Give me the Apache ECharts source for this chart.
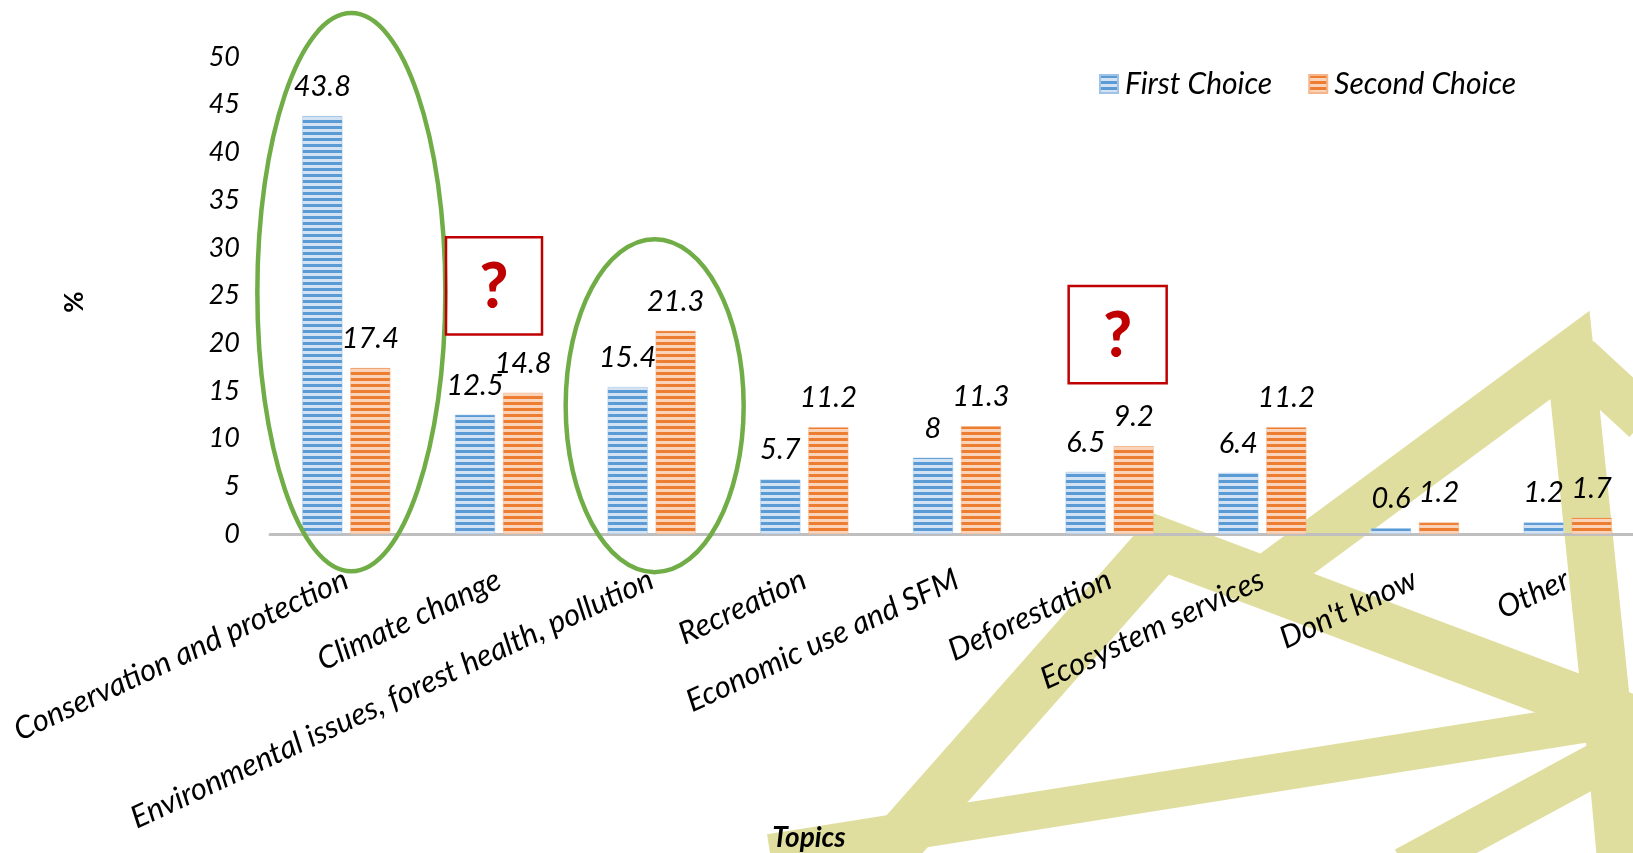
<!DOCTYPE html>
<html>
<head>
<meta charset="utf-8">
<title>Topics</title>
<script src="https://cdn.jsdelivr.net/npm/echarts@6.0.0/dist/echarts.min.js"></script>
<style>
  html, body { margin: 0; padding: 0; background: #ffffff; }
  #chart { width: 1633px; height: 853px; }
</style>
</head>
<body>
<div id="chart"></div>
<script>
// ---- data ----
const categories = [
  'Conservation and protection',
  'Climate change',
  'Environmental issues, forest health, pollution',
  'Recreation',
  'Economic use and SFM',
  'Deforestation',
  'Ecosystem services',
  "Don't know",
  'Other'
];
const firstChoice  = [43.8, 12.5, 15.4, 5.7, 8, 6.5, 6.4, 0.6, 1.2];
const secondChoice = [17.4, 14.8, 21.3, 11.2, 11.3, 9.2, 11.2, 1.2, 1.7];
const seriesNames  = ['First Choice', 'Second Choice'];
const yMin = 0, yMax = 50, yStep = 5;
const xAxisTitle = 'Topics';
const yAxisTitle = '%';

// ---- styling helpers ----
const FONT = 'Lato, "Open Sans", sans-serif';
const BLUE = '#5B9BD5', BLUE_LIGHT = '#d3e3f4';
const ORANGE = '#ED7D31', ORANGE_LIGHT = '#f9d4ba';
const WATERMARK = '#e0de9e';

// horizontal-stripe fill for the bars
function stripes(dark, light) {
  const c = document.createElement('canvas');
  c.width = 8; c.height = 6;
  const g = c.getContext('2d');
  g.fillStyle = light; g.fillRect(0, 0, 8, 6);
  g.fillStyle = dark;  g.fillRect(0, 0, 8, 3);
  return { image: c, repeat: 'repeat' };
}

// thick pale strokes of the background emblem
function band(points, w) {
  return {
    type: 'polyline', z: -10, silent: true,
    shape: { points: points },
    style: { stroke: WATERMARK, lineWidth: w, fill: null, lineJoin: 'miter', lineCap: 'butt', miterLimit: 10 }
  };
}
const emblem = [
  band([[880, 862], [1161, 544], [1645, 726]], 52),
  band([[1258, 585], [1570, 355], [1612, 760], [1622, 870]], 48),
  band([[1578, 358], [1645, 420]], 46),
  band([[770, 853], [1645, 714]], 38),
  band([[1645, 738], [1405, 868]], 42)
];

const chart = echarts.init(document.getElementById('chart'), null, { renderer: 'canvas' });

const labelStyle = {
  show: true, position: 'top', distance: 15,
  fontFamily: FONT, fontStyle: 'italic', fontSize: 29, color: '#000'
};

const option = {
  animation: false,
  backgroundColor: '#ffffff',
  grid: { left: 270, top: 57, width: 1374, height: 477, outerBoundsMode: 'none', containLabel: false },
  legend: {
    data: seriesNames,
    left: 1094, top: 64,
    itemWidth: 18, itemHeight: 18, itemGap: 36,
    icon: 'rect',
    textStyle: { fontFamily: FONT, fontStyle: 'italic', fontSize: 30, color: '#000', padding: [0, 0, 0, 2] }
  },
  xAxis: {
    type: 'category',
    data: categories,
    axisLine: { show: true, lineStyle: { color: '#bfbfbf', width: 3 } },
    axisTick: { show: false },
    axisLabel: {
      interval: 0, rotate: 25, margin: 44,
      fontFamily: FONT, fontStyle: 'italic', fontSize: 31, color: '#000'
    }
  },
  yAxis: {
    type: 'value',
    min: yMin, max: yMax, interval: yStep,
    axisLine: { show: false },
    axisTick: { show: false },
    splitLine: { show: false },
    axisLabel: { margin: 30, fontFamily: FONT, fontStyle: 'italic', fontSize: 27, color: '#000' }
  },
  series: [
    {
      name: seriesNames[0], type: 'bar', data: firstChoice,
      barWidth: 40, barGap: '20%',
      itemStyle: { color: stripes(BLUE, BLUE_LIGHT), borderColor: '#9fc2e6', borderWidth: 0.5 },
      label: labelStyle
    },
    {
      name: seriesNames[1], type: 'bar', data: secondChoice,
      barWidth: 40, barGap: '20%',
      itemStyle: { color: stripes(ORANGE, ORANGE_LIGHT), borderColor: '#f5b58a', borderWidth: 0.5 },
      label: labelStyle
    }
  ],
  graphic: emblem
};

chart.setOption(option);

// annotations placed with the chart's own coordinate system
const px = (i, v) => chart.convertToPixel({ gridIndex: 0 }, [i, v]);
function ellipseAround(i, dx, vTop, vBottom, halfW) {
  const top = px(i, vTop)[1], bottom = px(i, vBottom)[1];
  return {
    type: 'ellipse', z: 100, silent: true,
    shape: { cx: px(i, 0)[0] + dx, cy: (top + bottom) / 2, rx: halfW, ry: (bottom - top) / 2 },
    style: { stroke: '#70AD47', lineWidth: 4.5, fill: null }
  };
}
function questionBox(i, dx, vTop, vBottom, w) {
  const top = px(i, vTop)[1], bottom = px(i, vBottom)[1];
  const cx = px(i, 0)[0] + dx;
  return [
    {
      type: 'rect', z: 100, silent: true,
      shape: { x: cx - w / 2, y: top, width: w, height: bottom - top },
      style: { stroke: '#C00000', lineWidth: 2.5, fill: null }
    },
    {
      type: 'text', z: 101, silent: true,
      x: cx, y: (top + bottom) / 2 + 2,
      style: { text: '?', align: 'center', verticalAlign: 'middle', font: '900 62px ' + FONT, fill: '#C00000' }
    }
  ];
}

const notes = [
  ellipseAround(0, 5, 54.6, -3.9, 94),
  ellipseAround(2, 3, 30.9, -4.0, 89),
  ...questionBox(1, -5, 31.1, 20.9, 96),
  ...questionBox(5, 8, 26.0, 15.8, 98),
  {
    type: 'text', z: 50, silent: true,
    x: 75, y: 302, rotation: Math.PI / 2,
    style: { text: yAxisTitle, align: 'center', verticalAlign: 'middle', font: 'bold 26px ' + FONT, fill: '#000' }
  },
  {
    type: 'text', z: 50, silent: true,
    x: 809, y: 838,
    style: { text: xAxisTitle, align: 'center', verticalAlign: 'middle', font: 'italic bold 28px ' + FONT, fill: '#000' }
  }
];

chart.setOption({ graphic: emblem.concat(notes) });
</script>
</body>
</html>
